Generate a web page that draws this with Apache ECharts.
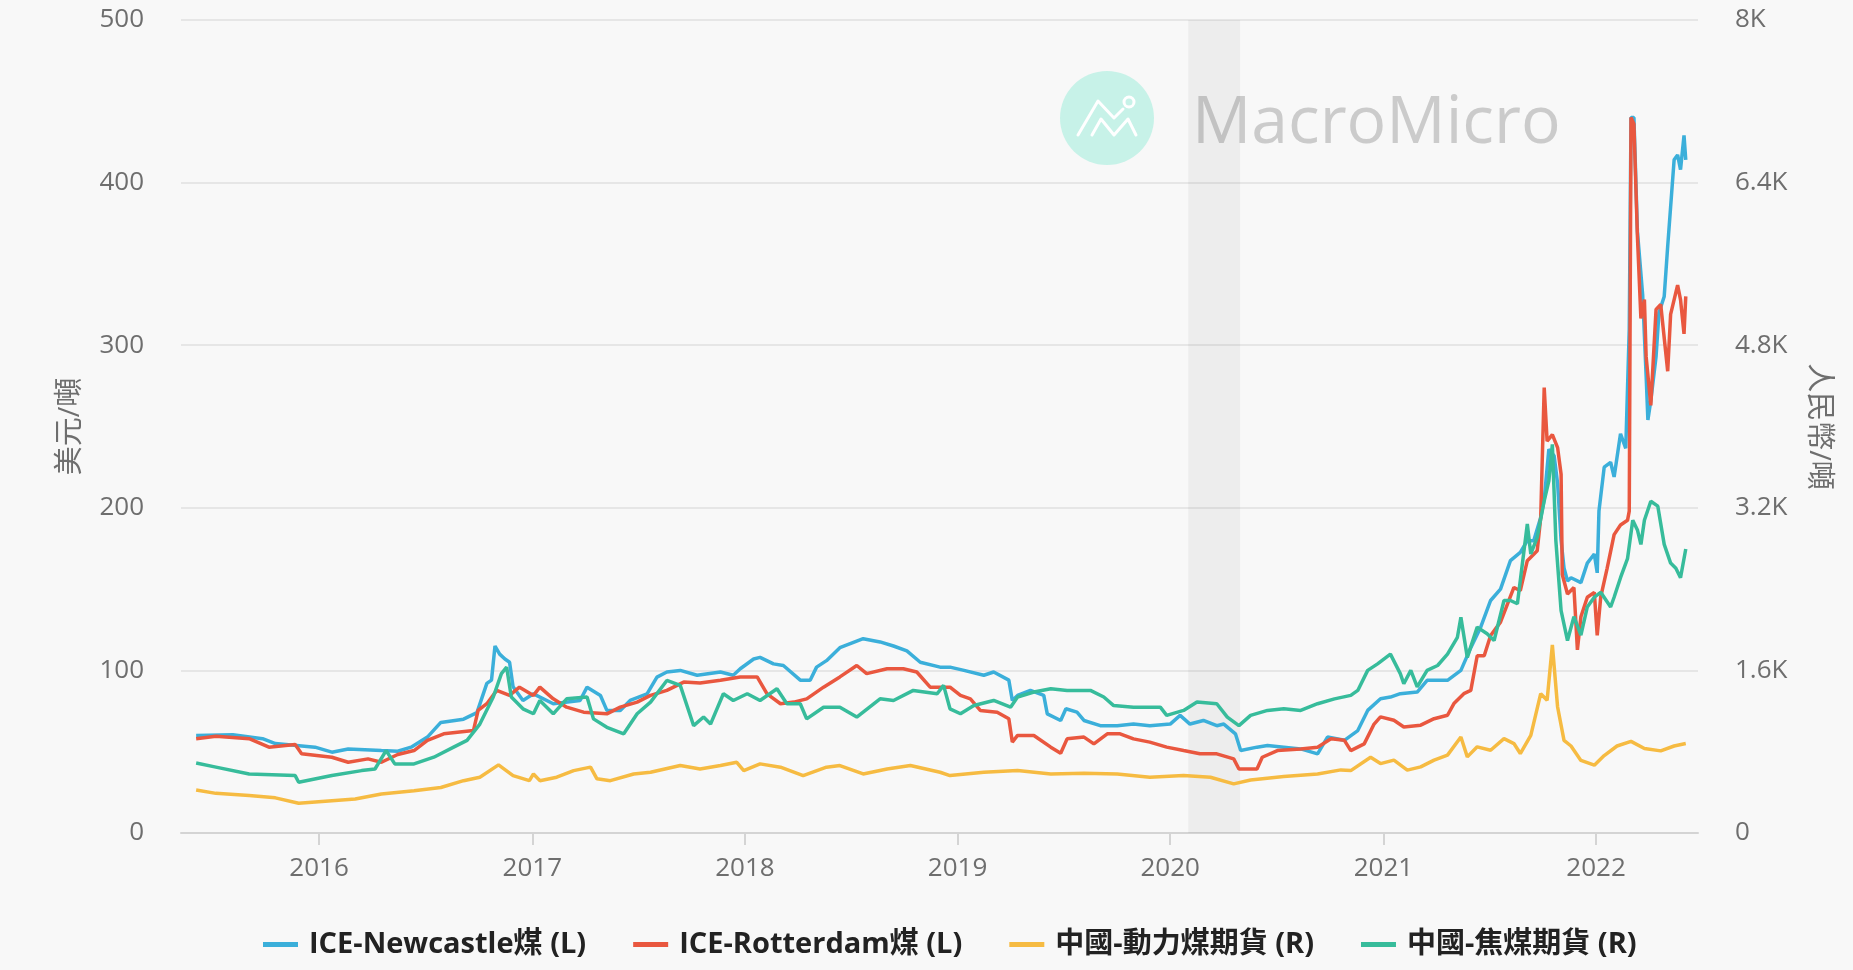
<!DOCTYPE html>
<html>
<head>
<meta charset="utf-8">
<script src="https://cdn.jsdelivr.net/npm/echarts@6/dist/echarts.min.js"></script>
<style>
  html, body { margin: 0; padding: 0; background: #f8f8f8; }
  #chart { width: 1853px; height: 970px; }
</style>
</head>
<body>
<div id="chart"></div>
<script>
// ICE Newcastle coal, USD/ton (left axis)
const newcastle = [
  ['2015-06-04', 60], ['2015-08-06', 60.4], ['2015-09-26', 58], ['2015-10-18', 55], ['2015-12-25', 52.8],
  ['2016-01-23', 49.7], ['2016-02-20', 51.7], ['2016-04-17', 50.7], ['2016-05-15', 50.3], ['2016-06-07', 52.8],
  ['2016-07-05', 59], ['2016-07-28', 68], ['2016-09-05', 70], ['2016-09-28', 74], ['2016-10-15', 92],
  ['2016-10-23', 94], ['2016-10-29', 115], ['2016-11-06', 110], ['2016-11-15', 107], ['2016-11-23', 105],
  ['2016-11-29', 90], ['2016-12-16', 81.5], ['2017-01-03', 85.6], ['2017-02-06', 79.5], ['2017-03-24', 81.5],
  ['2017-04-05', 89.7], ['2017-04-28', 84.6], ['2017-05-09', 75.4], ['2017-06-01', 75.4], ['2017-06-18', 81.5],
  ['2017-07-17', 85.6], ['2017-08-03', 95.9], ['2017-08-20', 99], ['2017-09-12', 100], ['2017-10-11', 97],
  ['2017-11-20', 99], ['2017-12-12', 97], ['2017-12-24', 101], ['2018-01-16', 107], ['2018-01-27', 108],
  ['2018-02-19', 104], ['2018-03-08', 103], ['2018-04-06', 94], ['2018-04-23', 94], ['2018-05-04', 102],
  ['2018-05-21', 106], ['2018-06-13', 114], ['2018-07-23', 119.5], ['2018-08-21', 117.5], ['2018-09-13', 115],
  ['2018-10-06', 112], ['2018-10-29', 105], ['2018-12-02', 102], ['2018-12-19', 102], ['2019-01-12', 100],
  ['2019-02-15', 97], ['2019-03-04', 99], ['2019-03-30', 94], ['2019-04-05', 81.5], ['2019-04-14', 84.6],
  ['2019-05-06', 87.7], ['2019-05-29', 84.6], ['2019-06-04', 73.3], ['2019-06-27', 69.2], ['2019-07-06', 76.4],
  ['2019-07-25', 74.3], ['2019-08-06', 69.2], ['2019-09-03', 66], ['2019-10-02', 66], ['2019-10-30', 67],
  ['2019-11-27', 66], ['2020-01-01', 67], ['2020-01-18', 72.3], ['2020-02-04', 67], ['2020-02-27', 69.2],
  ['2020-03-21', 66], ['2020-04-02', 67], ['2020-04-22', 61], ['2020-05-01', 50.7], ['2020-05-29', 52.8],
  ['2020-06-16', 53.8], ['2020-07-14', 52.8], ['2020-08-12', 51.7], ['2020-09-10', 48.7], ['2020-09-27', 59],
  ['2020-10-26', 57], ['2020-11-18', 63], ['2020-12-05', 75.4], ['2020-12-27', 82.6], ['2021-01-13', 83.6],
  ['2021-01-30', 85.7], ['2021-02-28', 86.7], ['2021-03-17', 93.9], ['2021-04-21', 93.9], ['2021-05-14', 100],
  ['2021-05-31', 114], ['2021-06-17', 126.6], ['2021-07-04', 143], ['2021-07-21', 150], ['2021-08-07', 167.5],
  ['2021-08-24', 172.6], ['2021-09-05', 179.8], ['2021-09-16', 179.8], ['2021-09-28', 194], ['2021-10-04', 205],
  ['2021-10-12', 236], ['2021-10-21', 232], ['2021-10-27', 215], ['2021-11-02', 180], ['2021-11-07', 163],
  ['2021-11-13', 155], ['2021-11-19', 157], ['2021-12-06', 154], ['2021-12-17', 166], ['2021-12-29', 171.6],
  ['2022-01-03', 160], ['2022-01-06', 198], ['2022-01-15', 225], ['2022-01-26', 228], ['2022-02-01', 219],
  ['2022-02-12', 245.5], ['2022-02-21', 236.6], ['2022-02-27', 310], ['2022-03-02', 440], ['2022-03-07', 440],
  ['2022-03-13', 370], ['2022-03-22', 331], ['2022-03-28', 281], ['2022-03-31', 254], ['2022-04-05', 266],
  ['2022-04-14', 293], ['2022-04-19', 320], ['2022-04-28', 330], ['2022-05-04', 361], ['2022-05-15', 414],
  ['2022-05-21', 417], ['2022-05-26', 408], ['2022-06-01', 429], ['2022-06-04', 414]
];

// ICE Rotterdam coal, USD/ton (left axis)
const rotterdam = [
  ['2015-06-04', 58], ['2015-07-08', 59.5], ['2015-09-03', 58], ['2015-10-07', 52.8], ['2015-11-21', 54.4],
  ['2015-12-02', 48.7], ['2016-01-23', 46.6], ['2016-02-20', 43.5], ['2016-03-25', 45.6], ['2016-04-17', 43.5],
  ['2016-05-15', 48.3], ['2016-06-12', 50.7], ['2016-07-05', 57], ['2016-08-02', 61], ['2016-09-22', 63],
  ['2016-09-30', 75.4], ['2016-10-15', 79.5], ['2016-11-01', 87.7], ['2016-11-23', 84.6], ['2016-12-10', 89.7],
  ['2017-01-03', 84.6], ['2017-01-14', 89.7], ['2017-02-06', 82.5], ['2017-03-01', 77.4], ['2017-03-30', 74.3],
  ['2017-05-09', 73.3], ['2017-06-01', 77.4], ['2017-06-30', 80.5], ['2017-07-23', 84.6], ['2017-08-20', 87.7],
  ['2017-09-18', 92.8], ['2017-10-16', 92.2], ['2017-11-20', 94], ['2017-12-24', 96], ['2018-01-22', 96],
  ['2018-02-08', 85.6], ['2018-03-03', 79.5], ['2018-03-26', 80.5], ['2018-04-17', 82.5], ['2018-05-16', 89.7],
  ['2018-06-13', 96], ['2018-07-12', 103], ['2018-07-29', 98], ['2018-09-02', 101], ['2018-09-30', 101],
  ['2018-10-23', 99], ['2018-11-15', 89.7], ['2018-12-19', 89.7], ['2019-01-06', 84.6], ['2019-01-23', 82.5],
  ['2019-02-09', 75.4], ['2019-03-10', 74.3], ['2019-03-30', 70.2], ['2019-04-05', 55.9], ['2019-04-14', 60],
  ['2019-05-12', 60], ['2019-06-10', 52.8], ['2019-06-27', 49], ['2019-07-08', 57.9], ['2019-08-06', 59],
  ['2019-08-23', 54.8], ['2019-09-15', 61], ['2019-10-07', 61], ['2019-10-30', 57.9], ['2019-11-27', 55.9],
  ['2019-12-26', 52.8], ['2020-01-24', 50.7], ['2020-02-21', 48.7], ['2020-03-21', 48.7], ['2020-04-19', 45.6],
  ['2020-04-28', 39.4], ['2020-05-29', 39.4], ['2020-06-07', 46.6], ['2020-07-03', 50.7], ['2020-08-12', 51.7],
  ['2020-09-10', 52.8], ['2020-10-03', 57.9], ['2020-10-26', 57], ['2020-11-06', 50.7], ['2020-11-29', 54.8],
  ['2020-12-16', 67], ['2020-12-27', 71.4], ['2021-01-19', 69.3], ['2021-02-05', 65.2], ['2021-03-06', 66.3],
  ['2021-03-29', 70.3], ['2021-04-21', 72.4], ['2021-05-02', 79.6], ['2021-05-19', 85.7], ['2021-05-31', 87.7],
  ['2021-06-11', 109], ['2021-06-23', 109], ['2021-07-04', 121.5], ['2021-07-21', 129.7], ['2021-08-13', 151],
  ['2021-08-24', 149], ['2021-09-05', 167.5], ['2021-09-22', 173.6], ['2021-09-28', 194], ['2021-10-04', 274],
  ['2021-10-09', 241], ['2021-10-18', 245], ['2021-10-27', 237], ['2021-11-02', 220.6], ['2021-11-04', 159],
  ['2021-11-13', 147], ['2021-11-24', 151], ['2021-11-30', 112.6], ['2021-12-06', 133], ['2021-12-17', 145],
  ['2021-12-29', 148], ['2022-01-03', 121.6], ['2022-01-09', 145], ['2022-01-20', 162.8], ['2022-02-01', 183.5],
  ['2022-02-12', 189.4], ['2022-02-24', 192.3], ['2022-02-27', 198], ['2022-03-02', 440], ['2022-03-07', 436],
  ['2022-03-13', 367], ['2022-03-19', 316.4], ['2022-03-25', 328], ['2022-03-28', 292.8], ['2022-04-05', 263],
  ['2022-04-14', 322], ['2022-04-22', 325], ['2022-05-04', 284], ['2022-05-09', 319], ['2022-05-21', 337],
  ['2022-05-26', 328], ['2022-06-01', 307], ['2022-06-04', 330]
];

// China thermal coal futures, RMB/ton (right axis)
const thermal = [
  ['2015-06-04', 424], ['2015-07-08', 390], ['2015-09-03', 368], ['2015-10-18', 346], ['2015-11-27', 293],
  ['2016-01-23', 318], ['2016-03-03', 334], ['2016-04-17', 384], ['2016-06-12', 416], ['2016-07-28', 448],
  ['2016-09-05', 515], ['2016-10-03', 549], ['2016-11-04', 670], ['2016-11-29', 565], ['2016-12-27', 515],
  ['2017-01-03', 581], ['2017-01-14', 515], ['2017-02-12', 549], ['2017-03-13', 614], ['2017-04-11', 648],
  ['2017-04-22', 533], ['2017-05-15', 515], ['2017-06-24', 581], ['2017-07-23', 598], ['2017-09-12', 664],
  ['2017-10-16', 630], ['2017-11-20', 664], ['2017-12-18', 696], ['2017-12-30', 614], ['2018-01-27', 680],
  ['2018-03-03', 648], ['2018-04-11', 565], ['2018-05-21', 648], ['2018-06-13', 664], ['2018-07-23', 581],
  ['2018-09-02', 630], ['2018-10-12', 664], ['2018-12-02', 598], ['2018-12-19', 565], ['2019-02-15', 598],
  ['2019-04-14', 614], ['2019-06-10', 581], ['2019-08-06', 589], ['2019-10-02', 581], ['2019-11-27', 549],
  ['2020-01-24', 565], ['2020-03-10', 549], ['2020-04-19', 483], ['2020-05-18', 522], ['2020-07-14', 555],
  ['2020-09-10', 581], ['2020-10-20', 621], ['2020-11-06', 614], ['2020-12-10', 746], ['2020-12-27', 683],
  ['2021-01-19', 717], ['2021-02-11', 619], ['2021-03-06', 651], ['2021-03-29', 717], ['2021-04-21', 766],
  ['2021-05-14', 944], ['2021-05-25', 749], ['2021-06-11', 848], ['2021-07-04', 814], ['2021-07-27', 928],
  ['2021-08-13', 880], ['2021-08-24', 782], ['2021-09-11', 960], ['2021-09-28', 1371], ['2021-10-09', 1306],
  ['2021-10-18', 1850], ['2021-10-27', 1240], ['2021-11-07', 912], ['2021-11-19', 856], ['2021-12-06', 714],
  ['2021-12-29', 667], ['2022-01-15', 762], ['2022-02-06', 856], ['2022-03-02', 902], ['2022-03-25', 832],
  ['2022-04-22', 808], ['2022-05-15', 856], ['2022-06-04', 880]
];

// China coking coal futures, RMB/ton (right axis)
const coking = [
  ['2015-06-04', 688], ['2015-07-08', 648], ['2015-09-03', 581], ['2015-11-21', 565], ['2015-11-27', 499],
  ['2016-01-23', 565], ['2016-03-14', 614], ['2016-04-06', 630], ['2016-04-25', 811], ['2016-05-10', 680],
  ['2016-06-12', 680], ['2016-07-16', 746], ['2016-08-19', 845], ['2016-09-11', 912], ['2016-10-03', 1072],
  ['2016-10-26', 1338], ['2016-11-09', 1568], ['2016-11-18', 1632], ['2016-11-26', 1338], ['2016-12-16', 1222],
  ['2017-01-03', 1173], ['2017-01-14', 1304], ['2017-02-06', 1173], ['2017-03-01', 1320], ['2017-04-05', 1338],
  ['2017-04-16', 1123], ['2017-05-09', 1040], ['2017-06-07', 976], ['2017-06-30', 1173], ['2017-07-23', 1288],
  ['2017-08-20', 1501], ['2017-09-12', 1453], ['2017-10-05', 1056], ['2017-10-22', 1141], ['2017-11-03', 1072],
  ['2017-11-25', 1370], ['2017-12-12', 1304], ['2018-01-05', 1370], ['2018-01-27', 1304], ['2018-02-25', 1419],
  ['2018-03-14', 1272], ['2018-04-06', 1272], ['2018-04-17', 1123], ['2018-05-16', 1238], ['2018-06-13', 1238],
  ['2018-07-12', 1141], ['2018-08-21', 1320], ['2018-09-13', 1304], ['2018-10-17', 1403], ['2018-11-27', 1370],
  ['2018-12-08', 1453], ['2018-12-19', 1222], ['2019-01-06', 1173], ['2019-01-29', 1254], ['2019-03-04', 1304],
  ['2019-04-02', 1238], ['2019-04-14', 1338], ['2019-05-12', 1387], ['2019-06-10', 1419], ['2019-07-08', 1403],
  ['2019-08-17', 1403], ['2019-09-09', 1338], ['2019-09-26', 1254], ['2019-10-30', 1238], ['2019-12-15', 1238],
  ['2019-12-26', 1157], ['2020-01-24', 1206], ['2020-02-16', 1288], ['2020-03-21', 1272], ['2020-04-08', 1141],
  ['2020-04-28', 1056], ['2020-05-18', 1157], ['2020-06-16', 1206], ['2020-07-14', 1222], ['2020-08-12', 1206],
  ['2020-09-10', 1272], ['2020-10-09', 1320], ['2020-11-06', 1354], ['2020-11-18', 1403], ['2020-12-05', 1600],
  ['2020-12-22', 1664], ['2021-01-13', 1760], ['2021-01-30', 1568], ['2021-02-05', 1469], ['2021-02-17', 1600],
  ['2021-02-28', 1437], ['2021-03-17', 1600], ['2021-04-04', 1648], ['2021-04-21', 1760], ['2021-05-08', 1926],
  ['2021-05-14', 2123], ['2021-05-25', 1728], ['2021-06-11', 2026], ['2021-06-28', 1960], ['2021-07-10', 1894],
  ['2021-07-27', 2288], ['2021-08-07', 2288], ['2021-08-19', 2256], ['2021-09-05', 3040], ['2021-09-11', 2746],
  ['2021-09-22', 2909], ['2021-10-04', 3269], ['2021-10-12', 3466], ['2021-10-18', 3824], ['2021-10-24', 2877],
  ['2021-11-02', 2189], ['2021-11-13', 1894], ['2021-11-24', 2128], ['2021-12-06', 1946], ['2021-12-17', 2224],
  ['2021-12-29', 2320], ['2022-01-09', 2368], ['2022-01-26', 2224], ['2022-02-01', 2320], ['2022-02-12', 2512],
  ['2022-02-24', 2699], ['2022-03-05', 3077], ['2022-03-13', 2982], ['2022-03-19', 2840], ['2022-03-25', 3077],
  ['2022-04-05', 3264], ['2022-04-17', 3216], ['2022-04-28', 2840], ['2022-05-09', 2656], ['2022-05-18', 2605],
  ['2022-05-26', 2512], ['2022-06-04', 2794]
];

const seriesNames = ['ICE-Newcastle煤 (L)', 'ICE-Rotterdam煤 (L)', '中國-動力煤期貨 (R)', '中國-焦煤期貨 (R)'];
const seriesColors = ['#3BAFDA', '#E9573F', '#F6BB42', '#37BC9B'];
const yearTicks = [2016, 2017, 2018, 2019, 2020, 2021, 2022];
const xRange = ['2015-05-09', '2022-06-25'];
const recession = ['2020-02-01', '2020-04-30'];

const FONT = '"Open Sans", "Noto Sans CJK TC", sans-serif';
const chart = echarts.init(document.getElementById('chart'));

// dates -> UTC timestamps, the x axis is a plain value axis of time
const ts = s => Date.parse(s + 'T00:00:00Z');
const tickValues = yearTicks.map(y => Date.UTC(y, 0, 1));

function lineSeries (idx, data, yIndex) {
  return {
    name: seriesNames[idx],
    type: 'line',
    yAxisIndex: yIndex,
    data: data.map(d => [ts(d[0]), d[1]]),
    symbol: 'none',
    lineStyle: { width: 3.5, color: seriesColors[idx] },
    itemStyle: { color: seriesColors[idx] }
  };
}

const series = [
  lineSeries(0, newcastle, 0),
  lineSeries(1, rotterdam, 0),
  lineSeries(2, thermal, 1),
  lineSeries(3, coking, 1)
];
// recession shading
series[0].markArea = {
  silent: true,
  itemStyle: { color: 'rgba(0,0,0,0.045)' },
  data: [[{ xAxis: ts(recession[0]) }, { xAxis: ts(recession[1]) }]]
};

chart.setOption({
  backgroundColor: '#f8f8f8',
  animation: false,
  color: seriesColors,
  grid: { left: 181, right: 155, top: 20, bottom: 137 },
  legend: {
    data: seriesNames,
    bottom: 6,
    left: 258,
    icon: 'rect',
    itemWidth: 35,
    itemHeight: 5,
    itemGap: 47,
    textStyle: {
      fontFamily: FONT,
      fontSize: 29,
      fontWeight: 'bold',
      color: '#222',
      padding: [0, 0, 0, 6]
    }
  },
  xAxis: {
    type: 'value',
    min: ts(xRange[0]),
    max: ts(xRange[1]),
    axisLine: { onZero: false, lineStyle: { color: '#d4d4d4', width: 2 } },
    axisTick: { show: true, length: 12, customValues: tickValues, lineStyle: { color: '#d4d4d4', width: 2 } },
    axisLabel: {
      customValues: tickValues,
      formatter: v => String(new Date(v).getUTCFullYear()),
      fontFamily: FONT,
      fontSize: 26,
      color: '#6e6e6e',
      margin: 23
    },
    splitLine: { show: false }
  },
  yAxis: [{
    type: 'value',
    min: 0,
    max: 500,
    interval: 100,
    name: '美元/噸',
    nameLocation: 'middle',
    nameRotate: 90,
    nameGap: 96,
    nameTextStyle: { fontFamily: FONT, fontSize: 29, color: '#6e6e6e' },
    axisLine: { show: false },
    axisTick: { show: false },
    axisLabel: { fontFamily: FONT, fontSize: 26, color: '#6e6e6e', margin: 37 },
    splitLine: { lineStyle: { color: '#e6e6e6', width: 2 } }
  }, {
    type: 'value',
    min: 0,
    max: 8000,
    interval: 1600,
    name: '人民幣/噸',
    nameLocation: 'middle',
    nameRotate: -90,
    nameGap: 106,
    nameTextStyle: { fontFamily: FONT, fontSize: 29, color: '#6e6e6e' },
    axisLine: { show: false },
    axisTick: { show: false },
    axisLabel: {
      fontFamily: FONT,
      fontSize: 26,
      color: '#6e6e6e',
      margin: 37,
      formatter: v => v === 0 ? '0' : (v / 1000) + 'K'
    },
    splitLine: { show: false }
  }],
  graphic: [{
    type: 'group',
    left: 1060,
    top: 71,
    silent: true,
    z: 0,
    children: [
      { type: 'circle', shape: { cx: 47, cy: 47, r: 47 }, style: { fill: '#c7f2e8' } },
      {
        type: 'polyline',
        shape: { points: [[18, 64], [38, 30], [54, 47], [63, 38]] },
        style: { stroke: '#fff', lineWidth: 3, fill: null, lineJoin: 'round', lineCap: 'round' }
      },
      { type: 'circle', shape: { cx: 69, cy: 31, r: 5 }, style: { stroke: '#fff', lineWidth: 3, fill: 'none' } },
      {
        type: 'polyline',
        shape: { points: [[32, 64], [41, 48], [54, 64], [68, 48], [76, 64]] },
        style: { stroke: '#fff', lineWidth: 3, fill: null, lineJoin: 'round', lineCap: 'round' }
      }
    ]
  }, {
    type: 'text',
    left: 1192,
    top: 91,
    silent: true,
    z: 0,
    style: { text: 'MacroMicro', fontFamily: '"Open Sans", sans-serif', fontSize: 66, fill: '#cbcbcb' }
  }],
  series: series
});

window.addEventListener('resize', function () {
  chart.resize();
});
</script>
</body>
</html>
